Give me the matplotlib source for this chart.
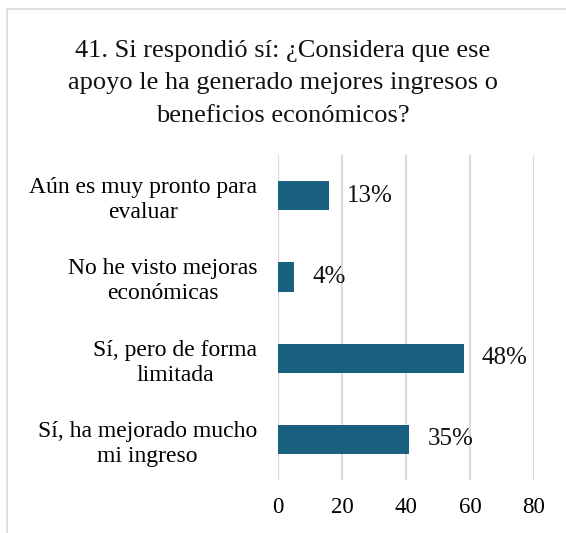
import matplotlib
matplotlib.use("Agg")
import matplotlib.pyplot as plt
from matplotlib.patches import Rectangle

categories = ["Aún es muy pronto para\nevaluar",
              "No he visto mejoras\neconómicas",
              "Sí, pero de forma\nlimitada",
              "Sí, ha mejorado mucho\nmi ingreso"]
values = [16, 5, 58, 41]
labels = ["13%", "4%", "48%", "35%"]
xticks = [0, 20, 40, 60, 80]
title = "41. Si respondió sí: ¿Considera que ese\napoyo le ha generado mejores ingresos o\nbeneficios económicos?"

plt.rcParams['font.family'] = ['Liberation Serif', 'DejaVu Serif']

W, H = 566, 533
fig = plt.figure(figsize=(W/100, H/100), dpi=100)

# outer chart frame (partially visible)
fig.patches.append(Rectangle((7/W, -0.1), 1.2, (H - 9)/H + 0.1, transform=fig.transFigure,
                             fill=False, edgecolor="#d9d9d9", linewidth=1.2))

ax = fig.add_axes([278/W, 1 - 480/H, (534 - 278)/W, (480 - 155)/H])
ypos = list(range(len(categories)))
ax.barh(ypos, values, height=0.36, color="#195f7f", zorder=3)
ax.set_ylim(len(categories) - 0.5, -0.5)
ax.set_xlim(0, 80)
ax.set_xticks(xticks)
ax.set_xticklabels([str(t) for t in xticks], fontsize=16.5)
ax.set_yticks(ypos)
ax.set_yticklabels(categories, fontsize=17, multialignment='center', linespacing=1.25)
ax.tick_params(axis='y', length=0, pad=15)
ax.tick_params(axis='x', length=0, pad=12)
for s in ax.spines.values():
    s.set_visible(False)
ax.grid(axis='x', color="#d9d9d9", linewidth=1.5, zorder=0)
ax.set_axisbelow(True)

for y, v, lab in zip(ypos, values, labels):
    ax.annotate(lab, (v, y), xytext=(13, 0), textcoords='offset points',
                va='center', ha='left', fontsize=18, color="#111111")

for i, line in enumerate(title.split("\n")):
    fig.text(0.5, 1 - (57 + 32.5 * i) / H, line, ha='center', va='baseline',
             fontsize=19, color="#111111")

fig.savefig("out.png", dpi=100)
